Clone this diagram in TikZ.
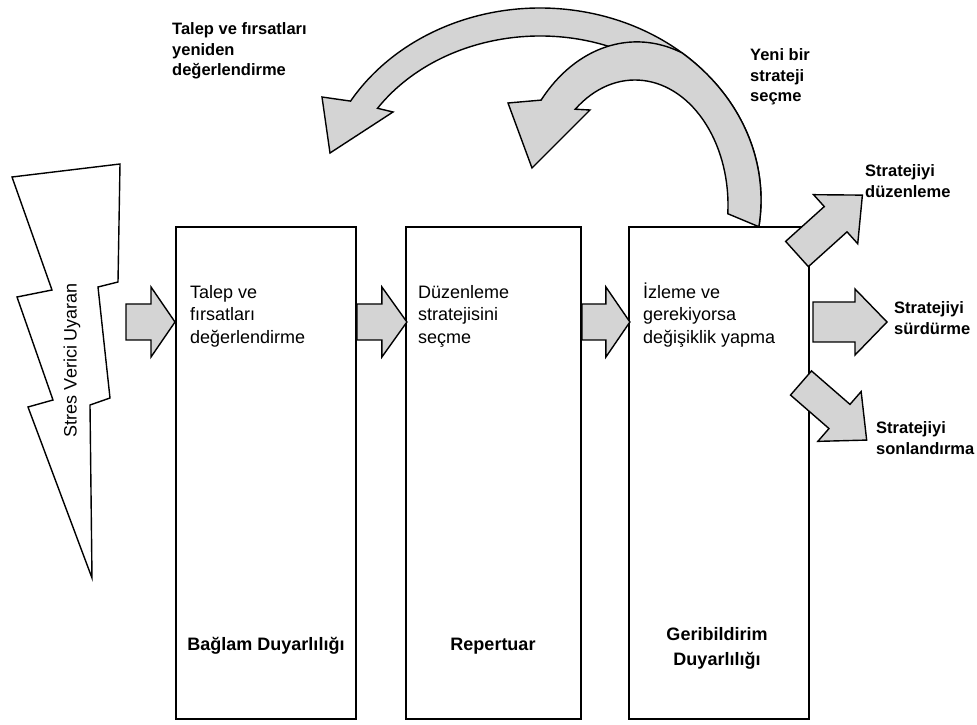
\documentclass[tikz,border=0pt]{standalone}
\usepackage{fontspec}
\setmainfont{Liberation Sans}
\definecolor{bandgray}{RGB}{212,212,212}
% fixes the top of a first text line at one em above its baseline
\newcommand{\toprow}{\rule{0pt}{1em}}
\tikzset{
  panel/.style={draw=black, line width=1.9, fill=white, inner sep=0, anchor=south west},
  fat/.style={draw=black, fill=bandgray, line width=1.4, line join=miter, miter limit=20},
  bolt/.style={draw=black, fill=white, line width=1.4, line join=miter, miter limit=20},
  inside/.style={font=\fontsize{18}{22.5}\selectfont, align=left, anchor=north west, inner sep=0},
  foot/.style={font=\bfseries\fontsize{18}{25}\selectfont, align=center, inner sep=0},
  tag/.style={font=\bfseries\fontsize{16.5}{20.5}\selectfont, align=left, anchor=north west, inner sep=0},
  % straight block arrow: length, shaft half width, head half width, head length
  pics/blockarrow/.style n args={4}{code={
    \draw[fat] (0,-#2) -- ({#1-#4},-#2) -- ({#1-#4},-#3) -- (#1,0)
      -- ({#1-#4},#3) -- ({#1-#4},#2) -- (0,#2) -- cycle;
  }},
}
\begin{document}
\begin{tikzpicture}[x=1pt,y=1pt]
\fill[white] (0,0) rectangle (977,724);
\useasboundingbox (0,0) rectangle (977,724);

% stress bolt
\draw[bolt] (12,547) -- (120,560) -- (118,442) -- (98,437) -- (110,326) -- (90,319)
  -- (92,146) -- (28,317) -- (53,324) -- (17,427) -- (52,434) -- cycle;
\node[rotate=90, font=\fontsize{18}{22}\selectfont, inner sep=0] (stress) at (72,364) {Stres Verici Uyaran};

% three stages
\node[panel, minimum width=180, minimum height=492] (ctx) at (175,4) {};
\node[panel, minimum width=175, minimum height=492] (rep) at (405,4) {};
\node[panel, minimum width=180, minimum height=492] (fb) at (628,4) {};

% arrows between stages
\pic (in1) at (126,402) {blockarrow={49}{18}{35}{24}};
\pic (in2) at (ctx.east |- 0,402) {blockarrow={50}{18}{35}{25}};
\pic (in3) at (rep.east |- 0,402) {blockarrow={48}{18}{35}{24}};

% outcome arrows
\pic[rotate=42] (out1) at (797,470) {blockarrow={88}{17}{33}{36}};
\pic (out2) at (813,402) {blockarrow={74}{20}{33}{32}};
\pic[rotate=-41] (out3) at (801,341) {blockarrow={87}{16}{33}{36}};

% feedback loop back to the first stage
\draw[fat] ([shift={(540,524)}]-8:221 and 192)
  arc[start angle=-8, end angle=149, x radius=221, y radius=192]
  -- (322,627) -- (330,571) -- (393,612)
  -- ([shift={(540,524)}]146:196 and 164)
  arc[start angle=146, end angle=-4, x radius=196, y radius=164] -- cycle;

% feedback loop back to the second stage, sharing the outer rim on the right
\draw[fat] ([shift={(540,524)}]-8:221 and 192)
  arc[start angle=-8, end angle=50, x radius=221, y radius=192]
  arc[start angle=68.8, end angle=140, x radius=125, y radius=163]
  -- (508,621) -- (532,556) -- (590,614)
  -- ([shift={(635,519)}]130:93 and 125)
  arc[start angle=130, end angle=-4, x radius=93, y radius=125] -- cycle;

% texts in the stages
\node[inside] (t1) at (190,444) {\toprow Talep ve\\fırsatları\\değerlendirme};
\node[inside] (t2) at (418,444) {\toprow Düzenleme\\stratejisini\\seçme};
\node[inside] (t3) at (643,444) {\toprow İzleme ve\\gerekiyorsa\\değişiklik yapma};

\node[foot, anchor=base] (f1) at (266,74) {Bağlam Duyarlılığı};
\node[foot, anchor=base] (f2) at (493,74) {Repertuar};
\node[foot, anchor=north] (f3) at (717,102) {\toprow Geribildirim\\Duyarlılığı};

% loop and outcome labels
\node[tag] (l1) at (172,706) {\toprow Talep ve fırsatları\\yeniden\\değerlendirme};
\node[tag] (l2) at (750,680) {\toprow Yeni bir\\strateji\\seçme};
\node[tag] (l3) at (865,564) {\toprow Stratejiyi\\düzenleme};
\node[tag] (l4) at (894,427) {\toprow Stratejiyi\\sürdürme};
\node[tag] (l5) at (876,307) {\toprow Stratejiyi\\sonlandırma};
\end{tikzpicture}
\end{document}
